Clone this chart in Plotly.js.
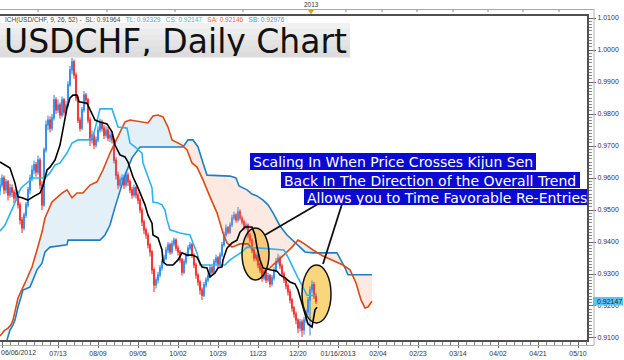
<!DOCTYPE html>
<html><head><meta charset="utf-8">
<script src="https://cdn.plot.ly/plotly-3.0.1.min.js"></script>
<style>html,body{margin:0;padding:0;background:#fff}#chart{width:624px;height:360px}</style>
</head><body><div id="chart"></div>
<script>
// ---- Daily USD/CHF candles, bar index 0 = 06/06/2012 ----
const open = [
0.9560,0.9578,0.9600,0.9563,0.9588,0.9547,0.9569,0.9556,0.9538,0.9553,
0.9516,0.9469,0.9444,0.9484,0.9516,0.9563,0.9600,0.9625,0.9641,0.9619,
0.9656,0.9578,0.9516,0.9688,0.9766,0.9781,0.9756,0.9788,0.9844,0.9813,
0.9828,0.9797,0.9844,0.9806,0.9828,0.9891,0.9938,0.9963,0.9922,0.9850,
0.9781,0.9756,0.9813,0.9859,0.9844,0.9781,0.9719,0.9734,0.9703,0.9719,
0.9750,0.9775,0.9756,0.9734,0.9750,0.9725,0.9734,0.9719,0.9656,0.9609,
0.9578,0.9594,0.9600,0.9578,0.9609,0.9588,0.9563,0.9547,0.9569,0.9547,
0.9531,0.9500,0.9463,0.9438,0.9422,0.9391,0.9369,0.9313,0.9266,0.9281,
0.9297,0.9319,0.9338,0.9350,0.9375,0.9391,0.9369,0.9394,0.9406,0.9381,
0.9369,0.9344,0.9306,0.9338,0.9359,0.9381,0.9391,0.9359,0.9328,0.9297,
0.9275,0.9250,0.9234,0.9266,0.9281,0.9294,0.9319,0.9306,0.9338,0.9350,
0.9328,0.9359,0.9391,0.9422,0.9444,0.9431,0.9453,0.9475,0.9484,0.9469,
0.9494,0.9475,0.9463,0.9444,0.9453,0.9422,0.9406,0.9375,0.9350,0.9359,
0.9328,0.9313,0.9288,0.9306,0.9281,0.9294,0.9269,0.9288,0.9313,0.9338,
0.9350,0.9325,0.9300,0.9281,0.9263,0.9244,0.9219,0.9194,0.9175,0.9156,
0.9131,0.9150,0.9125,0.9156,0.9181,0.9219,0.9250,0.9266,0.9231];
const high = [
0.9600,0.9612,0.9608,0.9597,0.9594,0.9581,0.9580,0.9563,0.9566,0.9560,
0.9524,0.9478,0.9492,0.9525,0.9572,0.9611,0.9640,0.9655,0.9650,0.9670,
0.9663,0.9590,0.9695,0.9780,0.9795,0.9792,0.9800,0.9860,0.9852,0.9845,
0.9836,0.9855,0.9850,0.9840,0.9902,0.9950,0.9975,0.9970,0.9930,0.9858,
0.9790,0.9822,0.9872,0.9866,0.9850,0.9790,0.9748,0.9742,0.9730,0.9762,
0.9786,0.9783,0.9766,0.9762,0.9760,0.9745,0.9742,0.9725,0.9665,0.9620,
0.9605,0.9612,0.9610,0.9620,0.9618,0.9595,0.9572,0.9580,0.9576,0.9555,
0.9538,0.9508,0.9470,0.9445,0.9430,0.9398,0.9375,0.9320,0.9290,0.9306,
0.9328,0.9347,0.9360,0.9385,0.9400,0.9398,0.9405,0.9414,0.9412,0.9390,
0.9375,0.9350,0.9346,0.9368,0.9390,0.9400,0.9398,0.9365,0.9335,0.9304,
0.9282,0.9258,0.9275,0.9290,0.9303,0.9328,0.9326,0.9347,0.9360,0.9356,
0.9368,0.9400,0.9432,0.9455,0.9450,0.9462,0.9485,0.9495,0.9490,0.9509,
0.9502,0.9482,0.9470,0.9462,0.9458,0.9428,0.9412,0.9382,0.9368,0.9365,
0.9335,0.9320,0.9315,0.9312,0.9303,0.9300,0.9297,0.9322,0.9350,0.9363,
0.9358,0.9332,0.9308,0.9290,0.9270,0.9252,0.9225,0.9200,0.9183,0.9162,
0.9160,0.9158,0.9166,0.9190,0.9228,0.9262,0.9280,0.9275,0.9240];
const low = [
0.9545,0.9570,0.9550,0.9552,0.9530,0.9538,0.9541,0.9522,0.9528,0.9505,
0.9455,0.9428,0.9436,0.9475,0.9508,0.9550,0.9590,0.9612,0.9605,0.9610,
0.9565,0.9500,0.9510,0.9680,0.9750,0.9742,0.9748,0.9780,0.9800,0.9803,
0.9785,0.9790,0.9795,0.9798,0.9820,0.9885,0.9925,0.9910,0.9840,0.9772,
0.9745,0.9750,0.9805,0.9830,0.9770,0.9700,0.9708,0.9690,0.9695,0.9712,
0.9742,0.9745,0.9722,0.9726,0.9715,0.9712,0.9708,0.9645,0.9595,0.9565,
0.9570,0.9582,0.9566,0.9570,0.9575,0.9552,0.9535,0.9540,0.9536,0.9518,
0.9490,0.9450,0.9425,0.9410,0.9380,0.9355,0.9300,0.9244,0.9255,0.9270,
0.9290,0.9310,0.9330,0.9344,0.9366,0.9360,0.9362,0.9386,0.9372,0.9358,
0.9335,0.9295,0.9300,0.9330,0.9352,0.9374,0.9350,0.9318,0.9285,0.9263,
0.9236,0.9219,0.9228,0.9258,0.9274,0.9288,0.9298,0.9300,0.9330,0.9320,
0.9322,0.9352,0.9385,0.9415,0.9424,0.9425,0.9446,0.9468,0.9460,0.9462,
0.9468,0.9455,0.9436,0.9438,0.9412,0.9396,0.9365,0.9340,0.9342,0.9318,
0.9303,0.9276,0.9280,0.9272,0.9274,0.9258,0.9262,0.9280,0.9305,0.9330,
0.9316,0.9290,0.9272,0.9252,0.9233,0.9208,0.9182,0.9163,0.9143,0.9115,
0.9120,0.9103,0.9110,0.9148,0.9172,0.9108,0.9240,0.9222,0.9206];
const close = [
0.9578,0.9600,0.9563,0.9588,0.9547,0.9569,0.9556,0.9538,0.9553,0.9516,
0.9469,0.9444,0.9484,0.9516,0.9563,0.9600,0.9625,0.9641,0.9619,0.9656,
0.9578,0.9516,0.9688,0.9766,0.9781,0.9756,0.9788,0.9844,0.9813,0.9828,
0.9797,0.9844,0.9806,0.9828,0.9891,0.9938,0.9963,0.9922,0.9850,0.9781,
0.9756,0.9813,0.9859,0.9844,0.9781,0.9719,0.9734,0.9703,0.9719,0.9750,
0.9775,0.9756,0.9734,0.9750,0.9725,0.9734,0.9719,0.9656,0.9609,0.9578,
0.9594,0.9600,0.9578,0.9609,0.9588,0.9563,0.9547,0.9569,0.9547,0.9531,
0.9500,0.9463,0.9438,0.9422,0.9391,0.9369,0.9313,0.9266,0.9281,0.9297,
0.9319,0.9338,0.9350,0.9375,0.9391,0.9369,0.9394,0.9406,0.9381,0.9369,
0.9344,0.9306,0.9338,0.9359,0.9381,0.9391,0.9359,0.9328,0.9297,0.9275,
0.9250,0.9234,0.9266,0.9281,0.9294,0.9319,0.9306,0.9338,0.9350,0.9328,
0.9359,0.9391,0.9422,0.9444,0.9431,0.9453,0.9475,0.9484,0.9469,0.9494,
0.9475,0.9463,0.9444,0.9453,0.9422,0.9406,0.9375,0.9350,0.9359,0.9328,
0.9313,0.9288,0.9306,0.9281,0.9294,0.9269,0.9288,0.9313,0.9338,0.9350,
0.9325,0.9300,0.9281,0.9263,0.9244,0.9219,0.9194,0.9175,0.9156,0.9131,
0.9150,0.9125,0.9156,0.9181,0.9219,0.9250,0.9266,0.9231,0.92147];

// ---- Ichimoku lines (x = bar index, y = price) ----
const slX = [0,2.5,5,7.5,9,11,14,16.5,20,21.5,23.5,25,27.5,30,31.5,33.5,35,36.5,38.5,39.5,43.5,45,47.5,50,53.5,56,57.5,60,62.5,64,66.5,69,71,72.5,74,76,76.5,79,81,81.5,83.5,86.5,89,91,93.5,96,98.5,101,103.5,105,107.5,109,111,111.5,113.5,116,118.5,120,122.5,126,127.5,128.5,130,131.5,135,138.5,140,142.5,145,147.5,149,151,152.5,154,156,156.5,157.5,158.5];
const slY = [0.9650,0.9641,0.9631,0.9584,0.9541,0.9538,0.9531,0.9541,0.9553,0.9575,0.9625,0.9634,0.9656,0.9703,0.9750,0.9819,0.9850,0.9859,0.9859,0.9838,0.9834,0.9813,0.9781,0.9775,0.9769,0.9744,0.9703,0.9672,0.9666,0.9650,0.9603,0.9569,0.9538,0.9516,0.9484,0.9459,0.9422,0.9413,0.9375,0.9338,0.9328,0.9328,0.9344,0.9366,0.9359,0.9359,0.9353,0.9322,0.9319,0.9291,0.9303,0.9319,0.9322,0.9344,0.9381,0.9397,0.9406,0.9431,0.9447,0.9447,0.9422,0.9384,0.9344,0.9319,0.9313,0.9309,0.9297,0.9288,0.9275,0.9269,0.9250,0.9209,0.9172,0.9144,0.9134,0.9156,0.9188,0.91964];
const tlX = [0,2.5,6.5,10,11,16.5,22.5,25,27.5,30,33.5,36,39,44,46.5,48.5,50,56,59,63.5,65,67.5,71,71.5,73.5,75,76,76.5,79,81,82.5,83.5,85,90,95,96.5,98.5,100,112.5,115,118.5,121,123.5,128.5,135,142,144,146.5,149,151.5,153.5,158.5];
const tlY = [0.9434,0.9453,0.9509,0.9563,0.9572,0.9600,0.9600,0.9616,0.9641,0.9647,0.9678,0.9709,0.9719,0.9719,0.9728,0.9775,0.9816,0.9816,0.9759,0.9756,0.9709,0.9697,0.9678,0.9647,0.9609,0.9584,0.9569,0.9525,0.9522,0.9516,0.9500,0.9469,0.9438,0.9428,0.9422,0.9397,0.9366,0.9328,0.9328,0.9344,0.9359,0.9369,0.9384,0.9381,0.9378,0.9375,0.9353,0.9319,0.9288,0.9259,0.9234,0.92329];
const saX = [0,2,4,5.5,6.5,9,12.5,16,18.5,21,22.5,26,31,33.5,36,38.5,41.5,45,48.5,51.5,55,59,62.5,65,70,74,76.5,79,81.5,84,86,91,93.5,96,98.5,101.5,105,108.5,111.5,113.5,116,120,124,126.5,129,131.5,135,139,142.5,146,149,151.5,156.5,161.5,166.5,171.5,175,178,180.5,182.5,184,186];
const saY = [0.9106,0.9122,0.9131,0.9141,0.9156,0.9225,0.9272,0.9322,0.9375,0.9431,0.9475,0.9525,0.9553,0.9563,0.9538,0.9553,0.9553,0.9578,0.9588,0.9625,0.9678,0.9728,0.9775,0.9781,0.9775,0.9772,0.9794,0.9797,0.9791,0.9759,0.9719,0.9703,0.9688,0.9647,0.9634,0.9594,0.9541,0.9491,0.9428,0.9397,0.9384,0.9394,0.9394,0.9375,0.9338,0.9306,0.9319,0.9341,0.9363,0.9384,0.9406,0.9397,0.9375,0.9356,0.9341,0.9328,0.9313,0.9272,0.9219,0.9194,0.9197,0.92146];
const sbX = [3.5,5,6.5,7.5,9,11.5,15,18.5,21,22.5,25,33.5,34,50,52.5,55,57.5,60,62.5,66,70,91.5,94,96.5,99,101.5,103.5,115,118,119.5,123.5,126,128.5,131.5,134,136.5,140,143.5,147.5,150,152.5,156.5,168.5,170.5,172.5,174,186];
const sbY = [0.9094,0.9125,0.9141,0.9156,0.9197,0.9250,0.9259,0.9313,0.9334,0.9369,0.9384,0.9391,0.9406,0.9406,0.9422,0.9453,0.9509,0.9563,0.9609,0.9663,0.9697,0.9697,0.9719,0.9719,0.9697,0.9647,0.9609,0.9606,0.9600,0.9575,0.9563,0.9550,0.9544,0.9531,0.9516,0.9491,0.9450,0.9422,0.9400,0.9384,0.9369,0.9366,0.9366,0.9344,0.9319,0.92976,0.92976];

// ---- axis labels & texts ----
const tickBars = [1,29,49,69,89,109,129,149,169,189,209,229,249,269,289];
const tickLabels = ['06/06/2012','07/13','08/09','09/05','10/02','10/29','11/23','12/20','01/16/2013','02/04','02/23','03/14','04/02','04/21','05/10'];
const calloutLines = ['Scaling In When Price Crosses Kijun Sen','Back In The Direction of the Overall Trend','Allows you to Time Favorable Re-Entries'];
const chartTitle = 'USDCHF, Daily Chart';

// ---------------- drawing ----------------
const P = X => X / 588;            // pixel x -> paper
const Q = Y => (341 - Y) / 326;    // pixel y -> paper
const last = a => a[a.length - 1];
const bars = close.map((_, i) => i);

function interp(xs, ys, x) {
  if (x <= xs[0]) return ys[0];
  for (let k = 1; k < xs.length; k++) {
    if (x <= xs[k]) { const t = (x - xs[k-1]) / (xs[k] - xs[k-1]); return ys[k-1] + t * (ys[k] - ys[k-1]); }
  }
  return ys[ys.length - 1];
}

const traces = [];
const gx = []; for (let g = sbX[0]; g <= last(saX) + 1e-9; g += 0.25) gx.push(g);
const segs = []; let cur = null;
gx.forEach(x => {
  const a = interp(saX, saY, x), b = interp(sbX, sbY, x), s = a >= b ? 1 : -1;
  if (!cur) { cur = {s, pts: [[x, a, b]]}; return; }
  if (s !== cur.s) {
    const [px, pa, pb] = cur.pts[cur.pts.length - 1];
    const d0 = pa - pb, d1 = a - b, t = d0 / (d0 - d1);
    const cx = px + t * (x - px), cy = pa + t * (a - pa);
    cur.pts.push([cx, cy, cy]); segs.push(cur);
    cur = {s, pts: [[cx, cy, cy], [x, a, b]]};
  } else cur.pts.push([x, a, b]);
});
segs.push(cur);
segs.forEach(sg => {
  const xs = sg.pts.map(p => p[0]);
  traces.push({type:'scatter', mode:'lines', x: xs.concat(xs.slice().reverse()),
    y: sg.pts.map(p => p[1]).concat(sg.pts.map(p => p[2]).reverse()),
    fill:'toself', fillcolor: sg.s > 0 ? 'rgba(90,160,210,0.16)' : 'rgba(240,150,110,0.2)',
    line:{width:0}, hoverinfo:'skip'});
});
traces.push({type:'scatter', mode:'lines', x: sbX, y: sbY, line:{color:'#1f7fc4', width:1.6}, hoverinfo:'skip'});
traces.push({type:'scatter', mode:'lines', x: saX, y: saY, line:{color:'#dd4a12', width:1.6}, hoverinfo:'skip'});
traces.push({type:'candlestick', x: bars, open, high, low, close, whiskerwidth: 0,
  increasing:{line:{color:'#3a92ee', width:1.1}, fillcolor:'#1f80ea'},
  decreasing:{line:{color:'#f33a3a', width:1.1}, fillcolor:'#f00000'}, hoverinfo:'skip'});
traces.push({type:'scatter', mode:'lines', x: tlX, y: tlY, line:{color:'#2bb5f0', width:1.6}, hoverinfo:'skip'});
traces.push({type:'scatter', mode:'lines', x: slX, y: slY, line:{color:'#000000', width:1.6}, hoverinfo:'skip'});

const shapes = [];
const line = (x0,y0,x1,y1,color,width) => shapes.push({type:'line', xref:'paper', yref:'paper', x0:P(x0), y0:Q(y0), x1:P(x1), y1:Q(y1), line:{color, width}, layer:'above'});
const rect = (x0,y0,x1,y1,fill,layer) => shapes.push({type:'rect', xref:'paper', yref:'paper', x0:P(x0), y0:Q(y1), x1:P(x1), y1:Q(y0), fillcolor:fill, line:{width:0}, layer: layer || 'above'});

[[242,228,269,280],[302,265,331,323]].forEach(e => {
  shapes.push({type:'circle', xref:'paper', yref:'paper', x0:P(e[0]), x1:P(e[2]), y0:Q(e[3]), y1:Q(e[1]), fillcolor:'#f9d67c', line:{width:0}, layer:'below'});
  shapes.push({type:'circle', xref:'paper', yref:'paper', x0:P(e[0]), x1:P(e[2]), y0:Q(e[3]), y1:Q(e[1]), line:{color:'#111', width:1.5}, layer:'above'});
});
line(265,235,318,204,'#111',1.8);
line(323,264,342,204,'#111',1.8);
rect(250,153,536,170,'#0a0ad0');
rect(281,172,580,188,'#0a0ad0');
rect(304,189,587,205,'#0a0ad0');
const bands = ['#f1f1f1','#ececec','#e8e8e8','#e4e4e4','#e0e0e0','#dcdcdc'];
bands.forEach((c, k) => rect(0, 23 + k*34/6, 350, 23 + (k+1)*34/6 + 0.5, c));
line(0,9.5,594,9.5,'#a8a8a8',1);
line(594,9.5,594,345,'#b0b0b0',1);
line(0,345.5,594,345.5,'#b0b0b0',1);
[38,107,175,243,311,346,382,417,453,488,523,559].forEach(x => line(x,9.5,x,12,'#888',1));
shapes.push({type:'path', xref:'paper', yref:'paper', path:`M ${P(308)} ${Q(10)} L ${P(314)} ${Q(10)} L ${P(311)} ${Q(14.5)} Z`, fillcolor:'#e0a21a', line:{width:0}});
line(0,15,589,15,'#505050',2);
line(588,15,588,342,'#505050',2);
line(0,341,589,341,'#505050',2);
rect(593,297,623,305.5,'#5cc3f6');

const anns = [];
const txt = (text, x, y, size, color, anchor, family, h) => anns.push({text, xref:'paper', yref:'paper', x:P(x), y:Q(y), xanchor:anchor||'left', yanchor:'middle', showarrow:false, font:{size, color, family: family || 'Liberation Sans, Arial, sans-serif'}, borderpad:0, height: h});
const dv = 'DejaVu Sans, Verdana, sans-serif';
txt(chartTitle, 3, 41, 33, '#111', 'left', dv, 30);
txt(calloutLines[0], 252, 161.5, 14, '#ffffff', 'left', dv, 15);
txt(calloutLines[1], 283, 180, 14, '#ffffff', 'left', dv, 15);
txt(calloutLines[2], 306, 197, 14, '#ffffff', 'left', dv, 15);
const gap = '&nbsp;&nbsp;&nbsp;';
const sp = (c, t) => `<span style="color:${c}">${t}</span>`;
const header = sp('#444', 'ICH(USD/CHF, 9, 26, 52) -&nbsp;&nbsp;SL: ' + last(slY).toFixed(5)) + gap +
  sp('#2aa9e6', 'TL: ' + last(tlY).toFixed(5)) + gap +
  sp('#2fbdc9', 'CS: ' + last(close).toFixed(5)) + gap +
  sp('#e8603c', 'SA: ' + last(saY).toFixed(5)) + gap +
  sp('#4a8fd0', 'SB: ' + last(sbY).toFixed(5));
txt(header, 4, 19.5, 6.5, '#444', 'left', null, 7);
txt('2013', 311, 4.5, 6.5, '#333', 'center', null, 7);
txt(tickLabels[0], 0, 352, 7, '#333', 'left');
txt(last(close).toFixed(5), 596, 301.3, 7, '#222', 'left', null, 8);

const layout = {
  width: 624, height: 360, margin:{l:0, r:36, t:15, b:19, pad:0},
  paper_bgcolor:'#ffffff', plot_bgcolor:'#ffffff', showlegend:false,
  xaxis:{range:[0,294], showgrid:false, zeroline:false, showline:false, rangeslider:{visible:false},
    tickmode:'array', tickvals: tickBars, ticktext: [''].concat(tickLabels.slice(1)),
    ticks:'outside', ticklen:6, tickcolor:'#666', tickfont:{size:7, color:'#333', family:'Liberation Sans, Arial, sans-serif'},
    minor:{tick0:1, dtick:4, ticks:'outside', ticklen:3, tickcolor:'#888'}},
  yaxis:{side:'right', range:[0.90906, 1.01094], showgrid:false, zeroline:false, showline:false,
    tickmode:'linear', tick0:0.91, dtick:0.01, tickformat:'.4f',
    ticks:'outside', ticklen:7, tickcolor:'#666', tickfont:{size:7, color:'#333', family:'Liberation Sans, Arial, sans-serif'},
    minor:{tick0:0.91, dtick:0.001, ticks:'outside', ticklen:3, tickcolor:'#888'}},
  shapes, annotations: anns
};
Plotly.newPlot('chart', traces, layout, {staticPlot:true, displayModeBar:false});
</script></body></html>
